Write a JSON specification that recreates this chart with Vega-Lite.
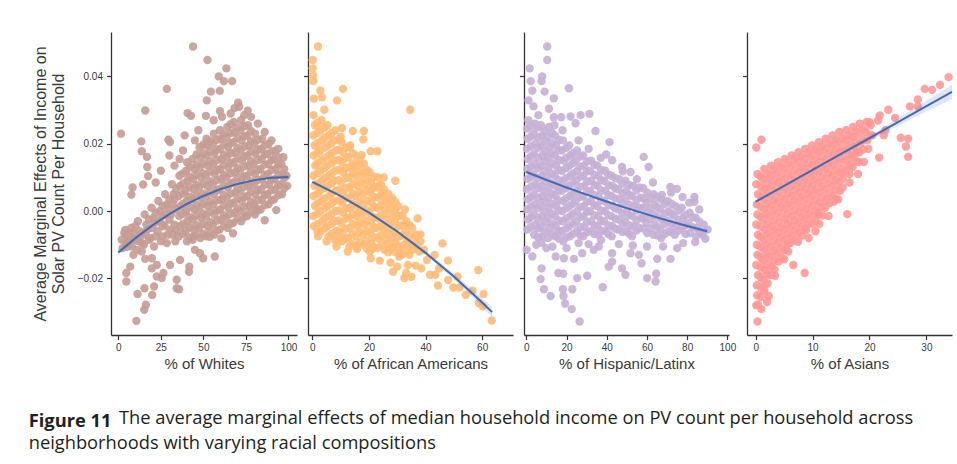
{
"$schema":"https://vega.github.io/schema/vega-lite/v6.json",
"padding":{"left":28,"top":32,"right":5,"bottom":5},
"background":"white",
"datasets":{
"w":[{"x":43.9,"y":0.0489},{"x":52.4,"y":0.0449},{"x":63.5,"y":0.0424},{"x":59,"y":0.040},{"x":66.9,"y":0.0386},{"x":62,"y":0.0386},{"x":54.4,"y":0.0355},{"x":59.6,"y":0.0357},{"x":52,"y":0.0329},{"x":28.5,"y":0.0363},{"x":15.8,"y":0.0299},{"x":1.6,"y":0.023},{"x":70.4,"y":0.0322},{"x":68.3,"y":0.0306},{"x":40.7,"y":0.0291},{"x":42.7,"y":0.0283},{"x":51.5,"y":0.0283},{"x":59.7,"y":0.0297},{"x":29.4,"y":0.0212},{"x":30.4,"y":0.0205},{"x":13.5,"y":0.0207},{"x":13.8,"y":0.0178},{"x":16.8,"y":0.0161},{"x":17,"y":0.0131},{"x":17.5,"y":0.0104},{"x":14.6,"y":0.0079},{"x":8.4,"y":0.007},{"x":7.7,"y":0.0049},{"x":4.1,"y":-0.0056},{"x":6.4,"y":-0.0086},{"x":5,"y":-0.0106},{"x":8.9,"y":-0.013},{"x":7,"y":-0.0165},{"x":4.7,"y":-0.0184},{"x":4.7,"y":-0.0209},{"x":11.3,"y":-0.0246},{"x":16.2,"y":-0.0278},{"x":15.2,"y":-0.0293},{"x":10.6,"y":-0.0326},{"x":15.4,"y":-0.0229},{"x":19.9,"y":-0.0249},{"x":21,"y":-0.0224},{"x":22.6,"y":-0.0194},{"x":25.5,"y":-0.0199},{"x":26.5,"y":-0.0184},{"x":34.3,"y":-0.0229},{"x":35.7,"y":-0.0232},{"x":34.3,"y":-0.0204},{"x":41.5,"y":-0.018},{"x":41.7,"y":-0.0165},{"x":36.3,"y":-0.0145},{"x":30.4,"y":-0.016},{"x":22.6,"y":-0.016},{"x":19.7,"y":-0.017},{"x":19.7,"y":-0.014},{"x":15.8,"y":-0.0142},{"x":13.8,"y":-0.012},{"x":49.9,"y":-0.014},{"x":56.7,"y":-0.0135},{"x":48,"y":-0.0125},{"x":45,"y":-0.0115},{"x":44,"y":-0.0076},{"x":53.8,"y":-0.0076},{"x":60.6,"y":-0.0081},{"x":67.4,"y":-0.0066},{"x":81.1,"y":0.0008},{"x":86,"y":-0.0027},{"x":92.8,"y":0.0003},{"x":75.2,"y":-0.0012},
{"x":38,"y":0.018},{"x":45,"y":0.021},{"x":36,"y":0.0155},{"x":47,"y":0.024},{"x":33,"y":0.0135},{"x":25,"y":0.012},{"x":22,"y":0.0085},{"x":30,"y":0.0165},{"x":39,"y":0.0225},{"x":56,"y":0.027},{"x":61,"y":0.028},{"x":66,"y":0.029},{"x":74,"y":0.0285},{"x":78,"y":0.028},{"x":82,"y":0.026},{"x":86,"y":0.0235},{"x":90,"y":0.021},{"x":94,"y":0.0185},{"x":97,"y":0.016},{"x":71,"y":0.031},{"x":76,"y":0.0298},
{"x":3.5,"y":-0.0065},{"x":4.5,"y":-0.0095},{"x":2.5,"y":-0.011},{"x":5,"y":-0.0075},{"x":7.5,"y":-0.005},{"x":8.5,"y":-0.008},{"x":8,"y":-0.0105},{"x":9,"y":-0.0065},{"x":11.5,"y":-0.003},{"x":12.5,"y":-0.006},{"x":12,"y":-0.009},{"x":11,"y":-0.0115},{"x":13,"y":-0.0075},{"x":15.5,"y":-0.001},{"x":16.5,"y":-0.004},{"x":16,"y":-0.007},{"x":15,"y":-0.010},{"x":17,"y":-0.0055},{"x":19.5,"y":0.001},{"x":20.5,"y":-0.002},{"x":20,"y":-0.005},{"x":19,"y":-0.008},{"x":21,"y":-0.0105},{"x":21.5,"y":-0.0035},{"x":23.5,"y":0.003},{"x":24.5,"y":0.0},{"x":24,"y":-0.003},{"x":23,"y":-0.006},{"x":25,"y":-0.009},{"x":25.5,"y":-0.0015},{"x":27.5,"y":0.005},{"x":28.5,"y":0.002},{"x":28,"y":-0.001},{"x":27,"y":-0.004},{"x":29,"y":-0.007},{"x":28.5,"y":-0.0095},{"x":29.5,"y":0.0005},{"x":31.5,"y":0.008},{"x":32.5,"y":0.005},{"x":32,"y":0.002},{"x":31,"y":-0.001},{"x":33,"y":-0.004},{"x":32,"y":-0.007},{"x":33.5,"y":-0.009},{"x":33,"y":0.0035},
{"x":6,"y":-0.0072},{"x":10,"y":-0.0085},{"x":10,"y":-0.0045},{"x":14,"y":-0.0065},{"x":14,"y":-0.0095},{"x":18,"y":-0.0025},{"x":18,"y":-0.0085},{"x":22,"y":-0.0005},{"x":22,"y":-0.0075},{"x":26,"y":0.0015},{"x":26,"y":-0.0045},{"x":26,"y":-0.0075},{"x":30,"y":0.0035},{"x":30,"y":-0.0025},{"x":30,"y":-0.0055},{"x":34,"y":0.0065},{"x":34,"y":0.0005},{"x":34,"y":-0.0058},{"x":2,"y":-0.0085},{"x":6,"y":-0.0102},
{"x":35.6,"y":-0.0075},{"x":36.4,"y":-0.0045},{"x":35.8,"y":-0.0015},{"x":36.6,"y":0.0015},{"x":35.4,"y":0.0045},{"x":36.2,"y":0.0075},{"x":35.9,"y":0.0105},
{"x":40.3,"y":-0.009},{"x":39.6,"y":-0.006},{"x":40.5,"y":-0.003},{"x":39.8,"y":0.0},{"x":40.2,"y":0.003},{"x":39.5,"y":0.006},{"x":40.6,"y":0.009},{"x":39.9,"y":0.012},{"x":40.4,"y":0.0145},
{"x":43.7,"y":-0.0085},{"x":44.4,"y":-0.0055},{"x":43.8,"y":-0.0025},{"x":44.6,"y":0.0005},{"x":43.5,"y":0.0035},{"x":44.2,"y":0.0065},{"x":43.9,"y":0.0095},{"x":44.5,"y":0.0125},{"x":43.6,"y":0.0155},
{"x":48.2,"y":-0.008},{"x":47.6,"y":-0.005},{"x":48.5,"y":-0.002},{"x":47.8,"y":0.001},{"x":48.3,"y":0.004},{"x":47.5,"y":0.007},{"x":48.6,"y":0.010},{"x":47.9,"y":0.013},{"x":48.1,"y":0.016},{"x":47.7,"y":0.019},
{"x":51.7,"y":-0.0075},{"x":52.4,"y":-0.0045},{"x":51.6,"y":-0.0015},{"x":52.5,"y":0.0015},{"x":51.8,"y":0.0045},{"x":52.2,"y":0.0075},{"x":51.5,"y":0.0105},{"x":52.6,"y":0.0135},{"x":51.9,"y":0.0165},{"x":52.3,"y":0.0195},{"x":51.8,"y":0.0215},
{"x":56.3,"y":-0.007},{"x":55.6,"y":-0.004},{"x":56.5,"y":-0.001},{"x":55.8,"y":0.002},{"x":56.2,"y":0.005},{"x":55.5,"y":0.008},{"x":56.6,"y":0.011},{"x":55.9,"y":0.014},{"x":56.4,"y":0.017},{"x":55.7,"y":0.020},{"x":56.1,"y":0.023},
{"x":59.6,"y":-0.0055},{"x":60.4,"y":-0.0025},{"x":59.8,"y":0.0005},{"x":60.5,"y":0.0035},{"x":59.5,"y":0.0065},{"x":60.3,"y":0.0095},{"x":59.9,"y":0.0125},{"x":60.6,"y":0.0155},{"x":59.7,"y":0.0185},{"x":60.2,"y":0.0215},{"x":59.8,"y":0.024},
{"x":64.2,"y":-0.005},{"x":63.6,"y":-0.002},{"x":64.5,"y":0.001},{"x":63.8,"y":0.004},{"x":64.3,"y":0.007},{"x":63.5,"y":0.010},{"x":64.6,"y":0.013},{"x":63.9,"y":0.016},{"x":64.4,"y":0.019},{"x":63.7,"y":0.022},{"x":64.1,"y":0.025},
{"x":67.6,"y":-0.0035},{"x":68.4,"y":-0.0005},{"x":67.8,"y":0.0025},{"x":68.5,"y":0.0055},{"x":67.5,"y":0.0085},{"x":68.3,"y":0.0115},{"x":67.9,"y":0.0145},{"x":68.6,"y":0.0175},{"x":67.7,"y":0.0205},{"x":68.2,"y":0.0235},{"x":67.8,"y":0.0265},
{"x":72.2,"y":-0.003},{"x":71.6,"y":0.0},{"x":72.5,"y":0.003},{"x":71.8,"y":0.006},{"x":72.3,"y":0.009},{"x":71.5,"y":0.012},{"x":72.6,"y":0.015},{"x":71.9,"y":0.018},{"x":72.4,"y":0.021},{"x":71.7,"y":0.024},{"x":72.1,"y":0.027},
{"x":75.6,"y":-0.0015},{"x":76.4,"y":0.0015},{"x":75.8,"y":0.0045},{"x":76.5,"y":0.0075},{"x":75.5,"y":0.0105},{"x":76.3,"y":0.0135},{"x":75.9,"y":0.0165},{"x":76.6,"y":0.0195},{"x":75.7,"y":0.0225},{"x":76.2,"y":0.0255},
{"x":80.2,"y":-0.001},{"x":79.6,"y":0.002},{"x":80.5,"y":0.005},{"x":79.8,"y":0.008},{"x":80.3,"y":0.011},{"x":79.5,"y":0.014},{"x":80.6,"y":0.017},{"x":79.9,"y":0.020},{"x":80.4,"y":0.023},
{"x":83.6,"y":0.0005},{"x":84.4,"y":0.0035},{"x":83.8,"y":0.0065},{"x":84.5,"y":0.0095},{"x":83.5,"y":0.0125},{"x":84.3,"y":0.0155},{"x":83.9,"y":0.0185},{"x":84.6,"y":0.0215},
{"x":88.2,"y":0.002},{"x":87.6,"y":0.005},{"x":88.5,"y":0.008},{"x":87.8,"y":0.011},{"x":88.3,"y":0.014},{"x":87.5,"y":0.017},{"x":88.4,"y":0.020},
{"x":91.6,"y":0.0035},{"x":92.4,"y":0.0065},{"x":91.8,"y":0.0095},{"x":92.5,"y":0.0125},{"x":91.5,"y":0.0155},{"x":92.3,"y":0.018},
{"x":96.2,"y":0.005},{"x":95.6,"y":0.008},{"x":96.5,"y":0.011},{"x":95.8,"y":0.014},{"x":99.3,"y":0.0075},{"x":98.8,"y":0.0105},
{"x":38,"y":-0.0068},{"x":38,"y":-0.0038},{"x":38,"y":-0.0008},{"x":38,"y":0.0022},{"x":38,"y":0.0052},{"x":38,"y":0.0082},{"x":38,"y":0.0112},
{"x":42,"y":-0.0078},{"x":42,"y":-0.0048},{"x":42,"y":-0.0018},{"x":42,"y":0.0012},{"x":42,"y":0.0042},{"x":42,"y":0.0072},{"x":42,"y":0.0102},{"x":42,"y":0.0132},
{"x":46,"y":-0.0072},{"x":46,"y":-0.0042},{"x":46,"y":-0.0012},{"x":46,"y":0.0018},{"x":46,"y":0.0048},{"x":46,"y":0.0078},{"x":46,"y":0.0108},{"x":46,"y":0.0138},{"x":46,"y":0.0168},
{"x":50,"y":-0.0068},{"x":50,"y":-0.0038},{"x":50,"y":-0.0008},{"x":50,"y":0.0022},{"x":50,"y":0.0052},{"x":50,"y":0.0082},{"x":50,"y":0.0112},{"x":50,"y":0.0142},{"x":50,"y":0.0172},{"x":50,"y":0.0198},
{"x":54,"y":-0.0062},{"x":54,"y":-0.0032},{"x":54,"y":-0.0002},{"x":54,"y":0.0028},{"x":54,"y":0.0058},{"x":54,"y":0.0088},{"x":54,"y":0.0118},{"x":54,"y":0.0148},{"x":54,"y":0.0178},{"x":54,"y":0.0208},
{"x":58,"y":-0.0058},{"x":58,"y":-0.0028},{"x":58,"y":0.0002},{"x":58,"y":0.0032},{"x":58,"y":0.0062},{"x":58,"y":0.0092},{"x":58,"y":0.0122},{"x":58,"y":0.0152},{"x":58,"y":0.0182},{"x":58,"y":0.0212},
{"x":62,"y":-0.0042},{"x":62,"y":-0.0012},{"x":62,"y":0.0018},{"x":62,"y":0.0048},{"x":62,"y":0.0078},{"x":62,"y":0.0108},{"x":62,"y":0.0138},{"x":62,"y":0.0168},{"x":62,"y":0.0198},{"x":62,"y":0.0228},
{"x":66,"y":-0.0038},{"x":66,"y":-0.0008},{"x":66,"y":0.0022},{"x":66,"y":0.0052},{"x":66,"y":0.0082},{"x":66,"y":0.0112},{"x":66,"y":0.0142},{"x":66,"y":0.0172},{"x":66,"y":0.0202},{"x":66,"y":0.0232},{"x":66,"y":0.0258},
{"x":70,"y":-0.0022},{"x":70,"y":0.0008},{"x":70,"y":0.0038},{"x":70,"y":0.0068},{"x":70,"y":0.0098},{"x":70,"y":0.0128},{"x":70,"y":0.0158},{"x":70,"y":0.0188},{"x":70,"y":0.0218},{"x":70,"y":0.0248},
{"x":74,"y":-0.0018},{"x":74,"y":0.0012},{"x":74,"y":0.0042},{"x":74,"y":0.0072},{"x":74,"y":0.0102},{"x":74,"y":0.0132},{"x":74,"y":0.0162},{"x":74,"y":0.0192},{"x":74,"y":0.0222},{"x":74,"y":0.0252},
{"x":78,"y":-0.0002},{"x":78,"y":0.0028},{"x":78,"y":0.0058},{"x":78,"y":0.0088},{"x":78,"y":0.0118},{"x":78,"y":0.0148},{"x":78,"y":0.0178},{"x":78,"y":0.0208},{"x":78,"y":0.0238},
{"x":82,"y":0.0002},{"x":82,"y":0.0032},{"x":82,"y":0.0062},{"x":82,"y":0.0092},{"x":82,"y":0.0122},{"x":82,"y":0.0152},{"x":82,"y":0.0182},{"x":82,"y":0.0212},
{"x":86,"y":0.0018},{"x":86,"y":0.0048},{"x":86,"y":0.0078},{"x":86,"y":0.0108},{"x":86,"y":0.0138},{"x":86,"y":0.0168},{"x":86,"y":0.0195},
{"x":90,"y":0.0032},{"x":90,"y":0.0062},{"x":90,"y":0.0092},{"x":90,"y":0.0122},{"x":90,"y":0.0152},{"x":90,"y":0.0178},
{"x":94,"y":0.0048},{"x":94,"y":0.0078},{"x":94,"y":0.0108},{"x":94,"y":0.0138},{"x":94,"y":0.016},
{"x":97.5,"y":0.0068},{"x":97.5,"y":0.0098},{"x":97.5,"y":0.0125}],
"b":[{"x":2,"y":0.0489},{"x":0.1,"y":0.0449},{"x":0.1,"y":0.0424},{"x":0.2,"y":0.0403},{"x":0.3,"y":0.0386},{"x":2.8,"y":0.0358},{"x":3.4,"y":0.0338},{"x":10.8,"y":0.0363},{"x":8.7,"y":0.0329},{"x":0.5,"y":0.0334},{"x":4.2,"y":0.0301},{"x":34.6,"y":0.0301},{"x":10.5,"y":0.0247},{"x":14.3,"y":0.0238},{"x":18.2,"y":0.0238},{"x":18,"y":0.0213},{"x":10,"y":0.022},{"x":13.3,"y":0.0195},{"x":20.6,"y":0.0178},{"x":23,"y":0.0178},{"x":17.4,"y":0.0166},{"x":18.8,"y":0.0116},{"x":14.4,"y":0.0131},{"x":25.2,"y":0.01},{"x":29.3,"y":0.009},{"x":23.6,"y":0.0077},{"x":20.6,"y":0.006},{"x":24.8,"y":0.0054},{"x":26.9,"y":0.0033},{"x":32.7,"y":0.0005},{"x":37.2,"y":-0.0022},{"x":32.8,"y":-0.0038},{"x":38.2,"y":-0.0069},{"x":46,"y":-0.0096},{"x":39.4,"y":-0.0115},{"x":43.2,"y":-0.013},{"x":47.9,"y":-0.0147},{"x":36.5,"y":-0.0162},{"x":33.8,"y":-0.016},{"x":28.5,"y":-0.018},{"x":32.5,"y":-0.0199},{"x":33.1,"y":-0.0184},{"x":41.6,"y":-0.0189},{"x":43.4,"y":-0.0189},{"x":44.4,"y":-0.0221},{"x":51.3,"y":-0.0194},{"x":49.8,"y":-0.0227},{"x":51.9,"y":-0.0227},{"x":54.2,"y":-0.0249},{"x":56.6,"y":-0.0236},{"x":58.6,"y":-0.0175},{"x":60.5,"y":-0.0246},{"x":58.8,"y":-0.0273},{"x":60.2,"y":-0.0283},{"x":63.4,"y":-0.0325},{"x":23.8,"y":-0.0147},{"x":20.6,"y":-0.014},{"x":27.6,"y":-0.0153},{"x":30.8,"y":-0.0125},{"x":34.3,"y":-0.013},{"x":15.8,"y":-0.0113},{"x":21,"y":-0.0113},{"x":28.5,"y":-0.0109},{"x":12.5,"y":-0.012},{"x":8.5,"y":-0.0105},{"x":5,"y":-0.009},{"x":2,"y":-0.0075},{"x":40.5,"y":-0.0145},{"x":44.8,"y":-0.017},{"x":38.5,"y":-0.017},{"x":35,"y":-0.0195},{"x":30,"y":-0.0165},{"x":48,"y":-0.0205},
{"x":0.4,"y":0.0285},{"x":0.9,"y":0.0255},{"x":0.3,"y":0.0225},{"x":0.8,"y":0.0195},{"x":0.5,"y":0.0165},{"x":1.0,"y":0.0135},{"x":0.3,"y":0.0105},{"x":0.7,"y":0.0075},{"x":0.4,"y":0.0045},{"x":0.9,"y":0.0015},{"x":0.3,"y":-0.0015},{"x":0.6,"y":-0.0045},
{"x":3.2,"y":0.027},{"x":2.8,"y":0.024},{"x":3.4,"y":0.021},{"x":2.7,"y":0.018},{"x":3.1,"y":0.015},{"x":2.9,"y":0.012},{"x":3.3,"y":0.009},{"x":2.6,"y":0.006},{"x":3.2,"y":0.003},{"x":2.8,"y":0.0},{"x":3.4,"y":-0.003},{"x":3.0,"y":-0.006},
{"x":5.3,"y":0.0255},{"x":5.8,"y":0.0225},{"x":5.4,"y":0.0195},{"x":5.9,"y":0.0165},{"x":5.2,"y":0.0135},{"x":5.7,"y":0.0105},{"x":5.5,"y":0.0075},{"x":5.9,"y":0.0045},{"x":5.3,"y":0.0015},{"x":5.6,"y":-0.0015},{"x":5.2,"y":-0.0045},{"x":5.7,"y":-0.0075},
{"x":8.2,"y":0.024},{"x":7.7,"y":0.021},{"x":8.4,"y":0.018},{"x":7.8,"y":0.015},{"x":8.1,"y":0.012},{"x":7.6,"y":0.009},{"x":8.3,"y":0.006},{"x":7.9,"y":0.003},{"x":8.2,"y":0.0},{"x":7.7,"y":-0.003},{"x":8.4,"y":-0.006},{"x":7.9,"y":-0.0085},
{"x":10.3,"y":0.0205},{"x":10.8,"y":0.0175},{"x":10.4,"y":0.0145},{"x":10.9,"y":0.0115},{"x":10.2,"y":0.0085},{"x":10.7,"y":0.0055},{"x":10.5,"y":0.0025},{"x":10.9,"y":-0.0005},{"x":10.3,"y":-0.0035},{"x":10.6,"y":-0.0065},{"x":10.4,"y":-0.009},
{"x":13.2,"y":0.019},{"x":12.7,"y":0.016},{"x":13.4,"y":0.013},{"x":12.8,"y":0.010},{"x":13.1,"y":0.007},{"x":12.6,"y":0.004},{"x":13.3,"y":0.001},{"x":12.9,"y":-0.002},{"x":13.2,"y":-0.005},{"x":12.7,"y":-0.008},{"x":13.1,"y":-0.0105},
{"x":15.3,"y":0.0165},{"x":15.8,"y":0.0135},{"x":15.4,"y":0.0105},{"x":15.9,"y":0.0075},{"x":15.2,"y":0.0045},{"x":15.7,"y":0.0015},{"x":15.5,"y":-0.0015},{"x":15.9,"y":-0.0045},{"x":15.3,"y":-0.0075},{"x":15.6,"y":-0.0105},
{"x":18.2,"y":0.014},{"x":17.7,"y":0.011},{"x":18.4,"y":0.008},{"x":17.8,"y":0.005},{"x":18.1,"y":0.002},{"x":17.6,"y":-0.001},{"x":18.3,"y":-0.004},{"x":17.9,"y":-0.007},{"x":18.2,"y":-0.010},
{"x":20.3,"y":0.0115},{"x":20.8,"y":0.0085},{"x":20.4,"y":0.0055},{"x":20.9,"y":0.0025},{"x":20.2,"y":-0.0005},{"x":20.7,"y":-0.0035},{"x":20.5,"y":-0.0065},{"x":20.9,"y":-0.0095},{"x":20.3,"y":-0.012},
{"x":23.2,"y":0.010},{"x":22.7,"y":0.007},{"x":23.4,"y":0.004},{"x":22.8,"y":0.001},{"x":23.1,"y":-0.002},{"x":22.6,"y":-0.005},{"x":23.3,"y":-0.008},{"x":22.9,"y":-0.011},
{"x":25.3,"y":0.0065},{"x":25.8,"y":0.0035},{"x":25.4,"y":0.0005},{"x":25.9,"y":-0.0025},{"x":25.2,"y":-0.0055},{"x":25.7,"y":-0.0085},{"x":25.5,"y":-0.0115},
{"x":28.2,"y":0.004},{"x":27.7,"y":0.001},{"x":28.4,"y":-0.002},{"x":27.8,"y":-0.005},{"x":28.1,"y":-0.008},{"x":27.6,"y":-0.011},
{"x":30.3,"y":0.0015},{"x":30.8,"y":-0.0015},{"x":30.4,"y":-0.0045},{"x":30.9,"y":-0.0075},{"x":30.2,"y":-0.0105},{"x":30.7,"y":-0.0135},
{"x":33.2,"y":-0.003},{"x":32.7,"y":-0.006},{"x":33.4,"y":-0.009},{"x":32.8,"y":-0.012},{"x":35.3,"y":-0.005},{"x":35.8,"y":-0.0085},{"x":35.4,"y":-0.0115},{"x":38.2,"y":-0.009},{"x":37.8,"y":-0.012},
{"x":1.8,"y":0.0262},{"x":1.8,"y":0.0232},{"x":1.8,"y":0.0202},{"x":1.8,"y":0.0172},{"x":1.8,"y":0.0142},{"x":1.8,"y":0.0112},{"x":1.8,"y":0.0082},{"x":1.8,"y":0.0052},{"x":1.8,"y":0.0022},{"x":1.8,"y":-0.0008},{"x":1.8,"y":-0.0038},{"x":1.8,"y":-0.0062},
{"x":4.3,"y":0.0248},{"x":4.3,"y":0.0218},{"x":4.3,"y":0.0188},{"x":4.3,"y":0.0158},{"x":4.3,"y":0.0128},{"x":4.3,"y":0.0098},{"x":4.3,"y":0.0068},{"x":4.3,"y":0.0038},{"x":4.3,"y":0.0008},{"x":4.3,"y":-0.0022},{"x":4.3,"y":-0.0052},
{"x":6.8,"y":0.0232},{"x":6.8,"y":0.0202},{"x":6.8,"y":0.0172},{"x":6.8,"y":0.0142},{"x":6.8,"y":0.0112},{"x":6.8,"y":0.0082},{"x":6.8,"y":0.0052},{"x":6.8,"y":0.0022},{"x":6.8,"y":-0.0008},{"x":6.8,"y":-0.0038},{"x":6.8,"y":-0.0068},
{"x":9.3,"y":0.0212},{"x":9.3,"y":0.0182},{"x":9.3,"y":0.0152},{"x":9.3,"y":0.0122},{"x":9.3,"y":0.0092},{"x":9.3,"y":0.0062},{"x":9.3,"y":0.0032},{"x":9.3,"y":0.0002},{"x":9.3,"y":-0.0028},{"x":9.3,"y":-0.0058},{"x":9.3,"y":-0.0082},
{"x":11.8,"y":0.0188},{"x":11.8,"y":0.0158},{"x":11.8,"y":0.0128},{"x":11.8,"y":0.0098},{"x":11.8,"y":0.0068},{"x":11.8,"y":0.0038},{"x":11.8,"y":0.0008},{"x":11.8,"y":-0.0022},{"x":11.8,"y":-0.0052},{"x":11.8,"y":-0.0082},
{"x":14.3,"y":0.0172},{"x":14.3,"y":0.0142},{"x":14.3,"y":0.0112},{"x":14.3,"y":0.0082},{"x":14.3,"y":0.0052},{"x":14.3,"y":0.0022},{"x":14.3,"y":-0.0008},{"x":14.3,"y":-0.0038},{"x":14.3,"y":-0.0068},{"x":14.3,"y":-0.0098},
{"x":16.8,"y":0.0148},{"x":16.8,"y":0.0118},{"x":16.8,"y":0.0088},{"x":16.8,"y":0.0058},{"x":16.8,"y":0.0028},{"x":16.8,"y":-0.0002},{"x":16.8,"y":-0.0032},{"x":16.8,"y":-0.0062},{"x":16.8,"y":-0.0092},
{"x":19.3,"y":0.0122},{"x":19.3,"y":0.0092},{"x":19.3,"y":0.0062},{"x":19.3,"y":0.0032},{"x":19.3,"y":0.0002},{"x":19.3,"y":-0.0028},{"x":19.3,"y":-0.0058},{"x":19.3,"y":-0.0088},{"x":19.3,"y":-0.0112},
{"x":21.8,"y":0.0102},{"x":21.8,"y":0.0072},{"x":21.8,"y":0.0042},{"x":21.8,"y":0.0012},{"x":21.8,"y":-0.0018},{"x":21.8,"y":-0.0048},{"x":21.8,"y":-0.0078},{"x":21.8,"y":-0.0108},
{"x":24.3,"y":0.0078},{"x":24.3,"y":0.0048},{"x":24.3,"y":0.0018},{"x":24.3,"y":-0.0012},{"x":24.3,"y":-0.0042},{"x":24.3,"y":-0.0072},{"x":24.3,"y":-0.0102},
{"x":26.8,"y":0.0052},{"x":26.8,"y":0.0022},{"x":26.8,"y":-0.0008},{"x":26.8,"y":-0.0038},{"x":26.8,"y":-0.0068},{"x":26.8,"y":-0.0098},{"x":26.8,"y":-0.0122},
{"x":29.3,"y":0.0028},{"x":29.3,"y":-0.0002},{"x":29.3,"y":-0.0032},{"x":29.3,"y":-0.0062},{"x":29.3,"y":-0.0092},{"x":29.3,"y":-0.0122},
{"x":31.8,"y":-0.0012},{"x":31.8,"y":-0.0042},{"x":31.8,"y":-0.0072},{"x":31.8,"y":-0.0102},{"x":31.8,"y":-0.0128},
{"x":34.3,"y":-0.0042},{"x":34.3,"y":-0.0072},{"x":34.3,"y":-0.0102},{"x":36.8,"y":-0.007},{"x":36.8,"y":-0.0102}],
"h":[{"x":10.4,"y":0.0489},{"x":10.4,"y":0.0449},{"x":1.7,"y":0.0424},{"x":7.9,"y":0.040},{"x":7.6,"y":0.0386},{"x":2.2,"y":0.0386},{"x":3,"y":0.0358},{"x":9.1,"y":0.0355},{"x":21.2,"y":0.0365},{"x":13.7,"y":0.0335},{"x":1.1,"y":0.0329},{"x":3.6,"y":0.0311},{"x":11.3,"y":0.0304},{"x":13.7,"y":0.0279},{"x":17.4,"y":0.0279},{"x":22,"y":0.0281},{"x":31.4,"y":0.0289},{"x":27,"y":0.0285},{"x":24.5,"y":0.0261},{"x":34.4,"y":0.0238},{"x":41.4,"y":0.0205},{"x":39.7,"y":0.0168},{"x":42.7,"y":0.0151},{"x":58.4,"y":0.0161},{"x":60.8,"y":0.0131},{"x":47.6,"y":0.0131},{"x":51.8,"y":0.0116},{"x":71.6,"y":0.0072},{"x":74.9,"y":0.0066},{"x":77.7,"y":0.0042},{"x":83.6,"y":0.0042},{"x":83.6,"y":0.0028},{"x":67.4,"y":0.0048},
{"x":0.2,"y":-0.0115},{"x":3,"y":-0.0135},{"x":7.6,"y":-0.0094},{"x":7.6,"y":-0.017},{"x":7.1,"y":-0.0202},{"x":8.8,"y":-0.0232},{"x":12.1,"y":-0.0252},{"x":15.9,"y":-0.0184},{"x":18.4,"y":-0.0186},{"x":18.2,"y":-0.0232},{"x":18.5,"y":-0.0252},{"x":19.3,"y":-0.0275},{"x":22.6,"y":-0.0291},{"x":26.5,"y":-0.0328},{"x":22.9,"y":-0.0232},{"x":14.6,"y":-0.0135},{"x":18.7,"y":-0.014},{"x":23.7,"y":-0.0142},{"x":25.3,"y":-0.0199},{"x":30.3,"y":-0.0192},{"x":27.8,"y":-0.0125},{"x":33.5,"y":-0.0115},{"x":38,"y":-0.0226},{"x":41,"y":-0.0165},{"x":42.7,"y":-0.015},{"x":47.6,"y":-0.017},{"x":49.3,"y":-0.0189},{"x":51.8,"y":-0.0125},{"x":57.3,"y":-0.0155},{"x":60.1,"y":-0.0199},{"x":64.6,"y":-0.0186},{"x":64.3,"y":-0.0209},{"x":56,"y":-0.013},{"x":65.1,"y":-0.0142},{"x":71.7,"y":-0.0142},{"x":42.7,"y":-0.0125},{"x":75,"y":-0.011},{"x":37.2,"y":-0.0086},
{"x":10,"y":-0.011},{"x":5,"y":-0.01},{"x":13,"y":-0.0105},{"x":20,"y":-0.011},{"x":26,"y":-0.0095},{"x":31,"y":-0.0098},{"x":36,"y":-0.0105},{"x":46,"y":-0.0098},{"x":53,"y":-0.0102},{"x":60,"y":-0.0105},{"x":68,"y":-0.0105},{"x":78,"y":-0.0095},{"x":84,"y":-0.0092},{"x":89,"y":-0.0082},{"x":86,"y":0.0005},{"x":81,"y":0.0025},{"x":72,"y":0.0055},{"x":63,"y":0.0085},{"x":55,"y":0.0095},{"x":48,"y":0.0118},{"x":37,"y":0.0158},{"x":31,"y":0.0185},{"x":26,"y":0.021},{"x":18,"y":0.024},{"x":14,"y":0.0255},{"x":6,"y":0.0285},{"x":1,"y":0.027},
{"x":0.4,"y":0.0245},{"x":0.8,"y":0.0215},{"x":0.3,"y":0.0185},{"x":0.9,"y":0.0155},{"x":0.5,"y":0.0125},{"x":0.7,"y":0.0095},{"x":0.3,"y":0.0065},{"x":0.8,"y":0.0035},{"x":0.4,"y":0.0005},{"x":0.9,"y":-0.0025},{"x":0.5,"y":-0.0055},
{"x":4.2,"y":0.026},{"x":3.7,"y":0.023},{"x":4.4,"y":0.020},{"x":3.8,"y":0.017},{"x":4.1,"y":0.014},{"x":3.6,"y":0.011},{"x":4.3,"y":0.008},{"x":3.9,"y":0.005},{"x":4.2,"y":0.002},{"x":3.7,"y":-0.001},{"x":4.4,"y":-0.004},{"x":3.9,"y":-0.007},
{"x":7.3,"y":0.0255},{"x":7.8,"y":0.0225},{"x":7.4,"y":0.0195},{"x":7.9,"y":0.0165},{"x":7.2,"y":0.0135},{"x":7.7,"y":0.0105},{"x":7.5,"y":0.0075},{"x":7.9,"y":0.0045},{"x":7.3,"y":0.0015},{"x":7.6,"y":-0.0015},{"x":7.2,"y":-0.0045},{"x":7.7,"y":-0.0075},
{"x":11.2,"y":0.025},{"x":10.7,"y":0.022},{"x":11.4,"y":0.019},{"x":10.8,"y":0.016},{"x":11.1,"y":0.013},{"x":10.6,"y":0.010},{"x":11.3,"y":0.007},{"x":10.9,"y":0.004},{"x":11.2,"y":0.001},{"x":10.7,"y":-0.002},{"x":11.4,"y":-0.005},{"x":10.9,"y":-0.008},
{"x":14.3,"y":0.0225},{"x":14.8,"y":0.0195},{"x":14.4,"y":0.0165},{"x":14.9,"y":0.0135},{"x":14.2,"y":0.0105},{"x":14.7,"y":0.0075},{"x":14.5,"y":0.0045},{"x":14.9,"y":0.0015},{"x":14.3,"y":-0.0015},{"x":14.6,"y":-0.0045},{"x":14.4,"y":-0.0075},
{"x":18.2,"y":0.021},{"x":17.7,"y":0.018},{"x":18.4,"y":0.015},{"x":17.8,"y":0.012},{"x":18.1,"y":0.009},{"x":17.6,"y":0.006},{"x":18.3,"y":0.003},{"x":17.9,"y":0.0},{"x":18.2,"y":-0.003},{"x":17.7,"y":-0.006},{"x":18.4,"y":-0.009},
{"x":21.3,"y":0.0195},{"x":21.8,"y":0.0165},{"x":21.4,"y":0.0135},{"x":21.9,"y":0.0105},{"x":21.2,"y":0.0075},{"x":21.7,"y":0.0045},{"x":21.5,"y":0.0015},{"x":21.9,"y":-0.0015},{"x":21.3,"y":-0.0045},{"x":21.6,"y":-0.0075},
{"x":25.2,"y":0.018},{"x":24.7,"y":0.015},{"x":25.4,"y":0.012},{"x":24.8,"y":0.009},{"x":25.1,"y":0.006},{"x":24.6,"y":0.003},{"x":25.3,"y":0.0},{"x":24.9,"y":-0.003},{"x":25.2,"y":-0.006},
{"x":28.3,"y":0.0165},{"x":28.8,"y":0.0135},{"x":28.4,"y":0.0105},{"x":28.9,"y":0.0075},{"x":28.2,"y":0.0045},{"x":28.7,"y":0.0015},{"x":28.5,"y":-0.0015},{"x":28.9,"y":-0.0045},{"x":28.3,"y":-0.0075},
{"x":32.2,"y":0.015},{"x":31.7,"y":0.012},{"x":32.4,"y":0.009},{"x":31.8,"y":0.006},{"x":32.1,"y":0.003},{"x":31.6,"y":0.0},{"x":32.3,"y":-0.003},{"x":31.9,"y":-0.006},
{"x":35.3,"y":0.0135},{"x":35.8,"y":0.0105},{"x":35.4,"y":0.0075},{"x":35.9,"y":0.0045},{"x":35.2,"y":0.0015},{"x":35.7,"y":-0.0015},{"x":35.5,"y":-0.0045},{"x":35.9,"y":-0.007},
{"x":39.2,"y":0.012},{"x":38.7,"y":0.009},{"x":39.4,"y":0.006},{"x":38.8,"y":0.003},{"x":39.1,"y":0.0},{"x":38.6,"y":-0.003},{"x":39.3,"y":-0.006},
{"x":42.3,"y":0.0105},{"x":42.8,"y":0.0075},{"x":42.4,"y":0.0045},{"x":42.9,"y":0.0015},{"x":42.2,"y":-0.0015},{"x":42.7,"y":-0.0045},{"x":42.5,"y":-0.0075},
{"x":46.2,"y":0.0095},{"x":45.7,"y":0.0065},{"x":46.4,"y":0.0035},{"x":45.8,"y":0.0005},{"x":46.1,"y":-0.0025},{"x":45.6,"y":-0.0055},
{"x":49.3,"y":0.009},{"x":49.8,"y":0.006},{"x":49.4,"y":0.003},{"x":49.9,"y":0.0},{"x":49.2,"y":-0.003},{"x":49.7,"y":-0.006},
{"x":53.2,"y":0.0075},{"x":52.7,"y":0.0045},{"x":53.4,"y":0.0015},{"x":52.8,"y":-0.0015},{"x":53.1,"y":-0.0045},{"x":52.6,"y":-0.0075},
{"x":56.3,"y":0.007},{"x":56.8,"y":0.004},{"x":56.4,"y":0.001},{"x":56.9,"y":-0.002},{"x":56.2,"y":-0.005},
{"x":60.2,"y":0.0055},{"x":59.7,"y":0.0025},{"x":60.4,"y":-0.0005},{"x":59.8,"y":-0.0035},{"x":60.1,"y":-0.0065},
{"x":63.3,"y":0.005},{"x":63.8,"y":0.002},{"x":63.4,"y":-0.001},{"x":63.9,"y":-0.004},{"x":63.2,"y":-0.007},
{"x":67.2,"y":0.0035},{"x":66.7,"y":0.0005},{"x":67.4,"y":-0.0025},{"x":66.8,"y":-0.0055},{"x":67.1,"y":-0.008},
{"x":70.3,"y":0.003},{"x":70.8,"y":0.0},{"x":70.4,"y":-0.003},{"x":70.9,"y":-0.006},
{"x":74.2,"y":0.0015},{"x":73.7,"y":-0.0015},{"x":74.4,"y":-0.0045},{"x":73.8,"y":-0.007},
{"x":77.3,"y":0.001},{"x":77.8,"y":-0.002},{"x":77.4,"y":-0.005},{"x":81.2,"y":-0.0005},{"x":80.7,"y":-0.0035},{"x":81.4,"y":-0.0065},
{"x":84.3,"y":-0.002},{"x":84.8,"y":-0.005},{"x":84.4,"y":-0.0075},{"x":88.2,"y":-0.004},{"x":87.7,"y":-0.007},{"x":90.2,"y":-0.0055},
{"x":2.2,"y":0.0252},{"x":2.2,"y":0.0222},{"x":2.2,"y":0.0192},{"x":2.2,"y":0.0162},{"x":2.2,"y":0.0132},{"x":2.2,"y":0.0102},{"x":2.2,"y":0.0072},{"x":2.2,"y":0.0042},{"x":2.2,"y":0.0012},{"x":2.2,"y":-0.0018},{"x":2.2,"y":-0.0048},
{"x":5.8,"y":0.0248},{"x":5.8,"y":0.0218},{"x":5.8,"y":0.0188},{"x":5.8,"y":0.0158},{"x":5.8,"y":0.0128},{"x":5.8,"y":0.0098},{"x":5.8,"y":0.0068},{"x":5.8,"y":0.0038},{"x":5.8,"y":0.0008},{"x":5.8,"y":-0.0022},{"x":5.8,"y":-0.0052},{"x":5.8,"y":-0.0078},
{"x":9.2,"y":0.0238},{"x":9.2,"y":0.0208},{"x":9.2,"y":0.0178},{"x":9.2,"y":0.0148},{"x":9.2,"y":0.0118},{"x":9.2,"y":0.0088},{"x":9.2,"y":0.0058},{"x":9.2,"y":0.0028},{"x":9.2,"y":-0.0002},{"x":9.2,"y":-0.0032},{"x":9.2,"y":-0.0062},
{"x":12.8,"y":0.0232},{"x":12.8,"y":0.0202},{"x":12.8,"y":0.0172},{"x":12.8,"y":0.0142},{"x":12.8,"y":0.0112},{"x":12.8,"y":0.0082},{"x":12.8,"y":0.0052},{"x":12.8,"y":0.0022},{"x":12.8,"y":-0.0008},{"x":12.8,"y":-0.0038},{"x":12.8,"y":-0.0068},
{"x":16.2,"y":0.0212},{"x":16.2,"y":0.0182},{"x":16.2,"y":0.0152},{"x":16.2,"y":0.0122},{"x":16.2,"y":0.0092},{"x":16.2,"y":0.0062},{"x":16.2,"y":0.0032},{"x":16.2,"y":0.0002},{"x":16.2,"y":-0.0028},{"x":16.2,"y":-0.0058},{"x":16.2,"y":-0.0082},
{"x":19.8,"y":0.0188},{"x":19.8,"y":0.0158},{"x":19.8,"y":0.0128},{"x":19.8,"y":0.0098},{"x":19.8,"y":0.0068},{"x":19.8,"y":0.0038},{"x":19.8,"y":0.0008},{"x":19.8,"y":-0.0022},{"x":19.8,"y":-0.0052},{"x":19.8,"y":-0.0078},
{"x":23.2,"y":0.0172},{"x":23.2,"y":0.0142},{"x":23.2,"y":0.0112},{"x":23.2,"y":0.0082},{"x":23.2,"y":0.0052},{"x":23.2,"y":0.0022},{"x":23.2,"y":-0.0008},{"x":23.2,"y":-0.0038},{"x":23.2,"y":-0.0068},
{"x":26.8,"y":0.0162},{"x":26.8,"y":0.0132},{"x":26.8,"y":0.0102},{"x":26.8,"y":0.0072},{"x":26.8,"y":0.0042},{"x":26.8,"y":0.0012},{"x":26.8,"y":-0.0018},{"x":26.8,"y":-0.0048},{"x":26.8,"y":-0.0072},
{"x":30.2,"y":0.0148},{"x":30.2,"y":0.0118},{"x":30.2,"y":0.0088},{"x":30.2,"y":0.0058},{"x":30.2,"y":0.0028},{"x":30.2,"y":-0.0002},{"x":30.2,"y":-0.0032},{"x":30.2,"y":-0.0062},
{"x":33.8,"y":0.0138},{"x":33.8,"y":0.0108},{"x":33.8,"y":0.0078},{"x":33.8,"y":0.0048},{"x":33.8,"y":0.0018},{"x":33.8,"y":-0.0012},{"x":33.8,"y":-0.0042},{"x":33.8,"y":-0.0068},
{"x":37.2,"y":0.0122},{"x":37.2,"y":0.0092},{"x":37.2,"y":0.0062},{"x":37.2,"y":0.0032},{"x":37.2,"y":0.0002},{"x":37.2,"y":-0.0028},{"x":37.2,"y":-0.0058},
{"x":40.8,"y":0.0108},{"x":40.8,"y":0.0078},{"x":40.8,"y":0.0048},{"x":40.8,"y":0.0018},{"x":40.8,"y":-0.0012},{"x":40.8,"y":-0.0042},{"x":40.8,"y":-0.0068},
{"x":44.2,"y":0.0098},{"x":44.2,"y":0.0068},{"x":44.2,"y":0.0038},{"x":44.2,"y":0.0008},{"x":44.2,"y":-0.0022},{"x":44.2,"y":-0.0052},
{"x":47.8,"y":0.0082},{"x":47.8,"y":0.0052},{"x":47.8,"y":0.0022},{"x":47.8,"y":-0.0008},{"x":47.8,"y":-0.0038},{"x":47.8,"y":-0.0062},
{"x":51.2,"y":0.0078},{"x":51.2,"y":0.0048},{"x":51.2,"y":0.0018},{"x":51.2,"y":-0.0012},{"x":51.2,"y":-0.0042},{"x":51.2,"y":-0.0068},
{"x":54.8,"y":0.0062},{"x":54.8,"y":0.0032},{"x":54.8,"y":0.0002},{"x":54.8,"y":-0.0028},{"x":54.8,"y":-0.0058},
{"x":58.2,"y":0.0068},{"x":58.2,"y":0.0038},{"x":58.2,"y":0.0008},{"x":58.2,"y":-0.0022},{"x":58.2,"y":-0.0052},
{"x":61.8,"y":0.0038},{"x":61.8,"y":0.0008},{"x":61.8,"y":-0.0022},{"x":61.8,"y":-0.0052},
{"x":65.2,"y":0.0042},{"x":65.2,"y":0.0012},{"x":65.2,"y":-0.0018},{"x":65.2,"y":-0.0048},{"x":65.2,"y":-0.0072},
{"x":68.8,"y":0.0022},{"x":68.8,"y":-0.0008},{"x":68.8,"y":-0.0038},{"x":68.8,"y":-0.0068},
{"x":72.2,"y":0.0022},{"x":72.2,"y":-0.0008},{"x":72.2,"y":-0.0038},{"x":72.2,"y":-0.0062},
{"x":75.8,"y":0.0002},{"x":75.8,"y":-0.0028},{"x":75.8,"y":-0.0058},{"x":79.2,"y":-0.0012},{"x":79.2,"y":-0.0042},{"x":79.2,"y":-0.0068},
{"x":82.8,"y":-0.0018},{"x":82.8,"y":-0.0048},{"x":86.2,"y":-0.0032},{"x":86.2,"y":-0.0062}],
"a":[{"x":33.9,"y":0.0398},{"x":32.4,"y":0.0375},{"x":31,"y":0.036},{"x":29.7,"y":0.0363},{"x":28.5,"y":0.0332},{"x":27.1,"y":0.0311},{"x":28.5,"y":0.0311},{"x":23.3,"y":0.0301},{"x":21.8,"y":0.0284},{"x":24.5,"y":0.0277},{"x":20,"y":0.0264},{"x":21.5,"y":0.0269},{"x":22.8,"y":0.024},{"x":22.5,"y":0.0225},{"x":25.5,"y":0.0218},{"x":26.8,"y":0.0215},{"x":26.4,"y":0.0192},{"x":26.8,"y":0.0161},{"x":21.7,"y":0.0159},{"x":19,"y":0.0146},{"x":18.1,"y":0.0146},{"x":17.4,"y":0.0166},{"x":18,"y":0.011},{"x":15.2,"y":0.0112},{"x":16.1,"y":-0.0009},{"x":13.7,"y":0.0028},{"x":0.1,"y":0.0189},{"x":1,"y":0.0212},{"x":8.6,"y":-0.0184},{"x":2.3,"y":-0.0252},{"x":0.3,"y":-0.0328},{"x":1,"y":-0.0291},{"x":0.4,"y":-0.0278},{"x":1.5,"y":-0.0239},{"x":11.2,"y":-0.0038},{"x":10,"y":-0.0038},{"x":11,"y":-0.001},{"x":6.6,"y":-0.016},{"x":5,"y":-0.0143},{"x":3.4,"y":-0.0192},{"x":5.2,"y":-0.0115},{"x":7.4,"y":-0.0091},{"x":8.9,"y":-0.0056},{"x":20.5,"y":0.0225},{"x":19.8,"y":0.0185},{"x":17,"y":0.013},{"x":16.5,"y":0.0085},{"x":14.5,"y":0.0035},{"x":12.8,"y":-0.0015},{"x":10.5,"y":-0.006},{"x":9.3,"y":-0.008},{"x":2,"y":-0.027},
{"x":0.3,"y":0.011},{"x":0.1,"y":0.008},{"x":0.4,"y":0.005},{"x":0.2,"y":0.002},{"x":0.3,"y":-0.001},{"x":0.1,"y":-0.004},{"x":0.4,"y":-0.007},{"x":0.2,"y":-0.010},{"x":0.3,"y":-0.013},{"x":0.1,"y":-0.016},{"x":0.4,"y":-0.019},{"x":0.2,"y":-0.022},{"x":0.3,"y":-0.025},{"x":0.1,"y":-0.028},
{"x":1.5,"y":0.0125},{"x":1.3,"y":0.0095},{"x":1.6,"y":0.0065},{"x":1.4,"y":0.0035},{"x":1.5,"y":0.0005},{"x":1.3,"y":-0.0025},{"x":1.6,"y":-0.0055},{"x":1.4,"y":-0.0085},{"x":1.5,"y":-0.0115},{"x":1.3,"y":-0.0145},{"x":1.6,"y":-0.0175},{"x":1.4,"y":-0.0205},{"x":1.5,"y":-0.023},
{"x":2.7,"y":0.0135},{"x":2.5,"y":0.0105},{"x":2.8,"y":0.0075},{"x":2.6,"y":0.0045},{"x":2.7,"y":0.0015},{"x":2.5,"y":-0.0015},{"x":2.8,"y":-0.0045},{"x":2.6,"y":-0.0075},{"x":2.7,"y":-0.0105},{"x":2.5,"y":-0.0135},{"x":2.8,"y":-0.0165},{"x":2.6,"y":-0.019},
{"x":3.9,"y":0.0145},{"x":3.7,"y":0.0115},{"x":4.0,"y":0.0085},{"x":3.8,"y":0.0055},{"x":3.9,"y":0.0025},{"x":3.7,"y":-0.0005},{"x":4.0,"y":-0.0035},{"x":3.8,"y":-0.0065},{"x":3.9,"y":-0.0095},{"x":3.7,"y":-0.0125},{"x":4.0,"y":-0.015},
{"x":5.1,"y":0.0155},{"x":4.9,"y":0.0125},{"x":5.2,"y":0.0095},{"x":5.0,"y":0.0065},{"x":5.1,"y":0.0035},{"x":4.9,"y":0.0005},{"x":5.2,"y":-0.0025},{"x":5.0,"y":-0.0055},{"x":5.1,"y":-0.0085},{"x":4.9,"y":-0.0115},
{"x":6.3,"y":0.0165},{"x":6.1,"y":0.0135},{"x":6.4,"y":0.0105},{"x":6.2,"y":0.0075},{"x":6.3,"y":0.0045},{"x":6.1,"y":0.0015},{"x":6.4,"y":-0.0015},{"x":6.2,"y":-0.0045},{"x":6.3,"y":-0.0075},{"x":6.1,"y":-0.0095},
{"x":7.5,"y":0.0175},{"x":7.3,"y":0.0145},{"x":7.6,"y":0.0115},{"x":7.4,"y":0.0085},{"x":7.5,"y":0.0055},{"x":7.3,"y":0.0025},{"x":7.6,"y":-0.0005},{"x":7.4,"y":-0.0035},{"x":7.5,"y":-0.0065},
{"x":8.7,"y":0.0185},{"x":8.5,"y":0.0155},{"x":8.8,"y":0.0125},{"x":8.6,"y":0.0095},{"x":8.7,"y":0.0065},{"x":8.5,"y":0.0035},{"x":8.8,"y":0.0005},{"x":8.6,"y":-0.0025},{"x":8.7,"y":-0.005},
{"x":9.9,"y":0.0195},{"x":9.7,"y":0.0165},{"x":10.0,"y":0.0135},{"x":9.8,"y":0.0105},{"x":9.9,"y":0.0075},{"x":9.7,"y":0.0045},{"x":10.0,"y":0.0015},{"x":9.8,"y":-0.0015},
{"x":11.1,"y":0.0205},{"x":10.9,"y":0.0175},{"x":11.2,"y":0.0145},{"x":11.0,"y":0.0115},{"x":11.1,"y":0.0085},{"x":10.9,"y":0.0055},{"x":11.2,"y":0.0025},{"x":11.0,"y":-0.0005},
{"x":12.3,"y":0.0215},{"x":12.1,"y":0.0185},{"x":12.4,"y":0.0155},{"x":12.2,"y":0.0125},{"x":12.3,"y":0.0095},{"x":12.1,"y":0.0065},{"x":12.4,"y":0.0035},{"x":12.2,"y":0.001},
{"x":13.5,"y":0.0225},{"x":13.3,"y":0.0195},{"x":13.6,"y":0.0165},{"x":13.4,"y":0.0135},{"x":13.5,"y":0.0105},{"x":13.3,"y":0.0075},{"x":13.6,"y":0.0045},
{"x":14.7,"y":0.0235},{"x":14.5,"y":0.0205},{"x":14.8,"y":0.0175},{"x":14.6,"y":0.0145},{"x":14.7,"y":0.0115},{"x":14.5,"y":0.0085},{"x":14.8,"y":0.006},
{"x":15.9,"y":0.024},{"x":15.7,"y":0.021},{"x":16.0,"y":0.018},{"x":15.8,"y":0.015},{"x":15.9,"y":0.012},
{"x":17.1,"y":0.025},{"x":16.9,"y":0.022},{"x":17.2,"y":0.019},{"x":17.0,"y":0.016},
{"x":18.3,"y":0.026},{"x":18.1,"y":0.023},{"x":18.4,"y":0.020},{"x":18.2,"y":0.0175},
{"x":19.5,"y":0.0265},{"x":19.3,"y":0.0235},{"x":19.6,"y":0.021},
{"x":0.9,"y":0.0103},{"x":0.9,"y":0.0073},{"x":0.9,"y":0.0043},{"x":0.9,"y":0.0013},{"x":0.9,"y":-0.0017},{"x":0.9,"y":-0.0047},{"x":0.9,"y":-0.0077},{"x":0.9,"y":-0.0107},{"x":0.9,"y":-0.0137},{"x":0.9,"y":-0.0167},{"x":0.9,"y":-0.0197},{"x":0.9,"y":-0.0227},{"x":0.9,"y":-0.0255},
{"x":2.1,"y":0.0113},{"x":2.1,"y":0.0083},{"x":2.1,"y":0.0053},{"x":2.1,"y":0.0023},{"x":2.1,"y":-0.0007},{"x":2.1,"y":-0.0037},{"x":2.1,"y":-0.0067},{"x":2.1,"y":-0.0097},{"x":2.1,"y":-0.0127},{"x":2.1,"y":-0.0157},{"x":2.1,"y":-0.0187},{"x":2.1,"y":-0.0215},
{"x":3.3,"y":0.0123},{"x":3.3,"y":0.0093},{"x":3.3,"y":0.0063},{"x":3.3,"y":0.0033},{"x":3.3,"y":0.0003},{"x":3.3,"y":-0.0027},{"x":3.3,"y":-0.0057},{"x":3.3,"y":-0.0087},{"x":3.3,"y":-0.0117},{"x":3.3,"y":-0.0147},{"x":3.3,"y":-0.0173},
{"x":4.5,"y":0.0133},{"x":4.5,"y":0.0103},{"x":4.5,"y":0.0073},{"x":4.5,"y":0.0043},{"x":4.5,"y":0.0013},{"x":4.5,"y":-0.0017},{"x":4.5,"y":-0.0047},{"x":4.5,"y":-0.0077},{"x":4.5,"y":-0.0107},{"x":4.5,"y":-0.0137},
{"x":5.7,"y":0.0143},{"x":5.7,"y":0.0113},{"x":5.7,"y":0.0083},{"x":5.7,"y":0.0053},{"x":5.7,"y":0.0023},{"x":5.7,"y":-0.0007},{"x":5.7,"y":-0.0037},{"x":5.7,"y":-0.0067},{"x":5.7,"y":-0.0097},{"x":5.7,"y":-0.012},
{"x":6.9,"y":0.0153},{"x":6.9,"y":0.0123},{"x":6.9,"y":0.0093},{"x":6.9,"y":0.0063},{"x":6.9,"y":0.0033},{"x":6.9,"y":0.0003},{"x":6.9,"y":-0.0027},{"x":6.9,"y":-0.0057},{"x":6.9,"y":-0.0087},
{"x":8.1,"y":0.0163},{"x":8.1,"y":0.0133},{"x":8.1,"y":0.0103},{"x":8.1,"y":0.0073},{"x":8.1,"y":0.0043},{"x":8.1,"y":0.0013},{"x":8.1,"y":-0.0017},{"x":8.1,"y":-0.0047},{"x":8.1,"y":-0.0073},
{"x":9.3,"y":0.0173},{"x":9.3,"y":0.0143},{"x":9.3,"y":0.0113},{"x":9.3,"y":0.0083},{"x":9.3,"y":0.0053},{"x":9.3,"y":0.0023},{"x":9.3,"y":-0.0007},{"x":9.3,"y":-0.0037},
{"x":10.5,"y":0.0183},{"x":10.5,"y":0.0153},{"x":10.5,"y":0.0123},{"x":10.5,"y":0.0093},{"x":10.5,"y":0.0063},{"x":10.5,"y":0.0033},{"x":10.5,"y":0.0003},{"x":10.5,"y":-0.0027},
{"x":11.7,"y":0.0193},{"x":11.7,"y":0.0163},{"x":11.7,"y":0.0133},{"x":11.7,"y":0.0103},{"x":11.7,"y":0.0073},{"x":11.7,"y":0.0043},{"x":11.7,"y":0.0013},{"x":11.7,"y":-0.0013},
{"x":12.9,"y":0.0203},{"x":12.9,"y":0.0173},{"x":12.9,"y":0.0143},{"x":12.9,"y":0.0113},{"x":12.9,"y":0.0083},{"x":12.9,"y":0.0053},{"x":12.9,"y":0.0023},
{"x":14.1,"y":0.0213},{"x":14.1,"y":0.0183},{"x":14.1,"y":0.0153},{"x":14.1,"y":0.0123},{"x":14.1,"y":0.0093},{"x":14.1,"y":0.0063},{"x":14.1,"y":0.0037},
{"x":15.3,"y":0.0217},{"x":15.3,"y":0.0187},{"x":15.3,"y":0.0157},{"x":15.3,"y":0.0127},{"x":15.3,"y":0.0097},{"x":15.3,"y":0.007},
{"x":16.5,"y":0.0227},{"x":16.5,"y":0.0197},{"x":16.5,"y":0.0167},{"x":16.5,"y":0.0137},{"x":16.5,"y":0.011},
{"x":17.7,"y":0.0237},{"x":17.7,"y":0.0207},{"x":17.7,"y":0.0177},{"x":17.7,"y":0.0147},
{"x":18.9,"y":0.0243},{"x":18.9,"y":0.0213},{"x":18.9,"y":0.0183},{"x":20.2,"y":0.0255},{"x":20.2,"y":0.0225}],
"wf":[{"x":0,"fit":-0.0123,"lo":-0.0132,"hi":-0.0114},{"x":10,"fit":-0.00804,"lo":-0.00864,"hi":-0.00744},{"x":20,"fit":-0.00424,"lo":-0.00464,"hi":-0.00384},{"x":30,"fit":-0.00088,"lo":-0.00118,"hi":-0.00058},{"x":40,"fit":0.00204,"lo":0.00174,"hi":0.00234},{"x":50,"fit":0.0045,"lo":0.0042,"hi":0.0048},{"x":60,"fit":0.00652,"lo":0.00622,"hi":0.00682},{"x":70,"fit":0.00808,"lo":0.00778,"hi":0.00838},{"x":80,"fit":0.0092,"lo":0.0089,"hi":0.0095},{"x":90,"fit":0.00988,"lo":0.00948,"hi":0.01028},{"x":100,"fit":0.0101,"lo":0.0095,"hi":0.0107}],
"bf":[{"x":0,"fit":0.0087,"lo":0.0081,"hi":0.0093},{"x":10,"fit":0.00448,"lo":0.00408,"hi":0.00488},{"x":20,"fit":-0.00045,"lo":-0.00075,"hi":-0.00015},{"x":30,"fit":-0.00607,"lo":-0.00647,"hi":-0.00567},{"x":40,"fit":-0.0124,"lo":-0.013,"hi":-0.0118},{"x":50,"fit":-0.01942,"lo":-0.02032,"hi":-0.01852},{"x":60,"fit":-0.02714,"lo":-0.02844,"hi":-0.02584},{"x":63.5,"fit":-0.0300,"lo":-0.0315,"hi":-0.0285}],
"hf":[{"x":0,"fit":0.0116,"lo":0.011,"hi":0.0122},{"x":10,"fit":0.00927,"lo":0.00887,"hi":0.00967},{"x":20,"fit":0.00703,"lo":0.00673,"hi":0.00733},{"x":30,"fit":0.00489,"lo":0.00459,"hi":0.00519},{"x":40,"fit":0.00284,"lo":0.00254,"hi":0.00314},{"x":50,"fit":0.00088,"lo":0.00058,"hi":0.00118},{"x":60,"fit":-0.00098,"lo":-0.00128,"hi":-0.00068},{"x":70,"fit":-0.00275,"lo":-0.00315,"hi":-0.00235},{"x":80,"fit":-0.00442,"lo":-0.00492,"hi":-0.00392},{"x":90,"fit":-0.006,"lo":-0.0066,"hi":-0.0054}],
"af":[{"x":0,"fit":0.0028,"lo":0.0024,"hi":0.0032},{"x":5,"fit":0.00753,"lo":0.00723,"hi":0.00783},{"x":10,"fit":0.01225,"lo":0.01195,"hi":0.01255},{"x":15,"fit":0.01698,"lo":0.01658,"hi":0.01738},{"x":20,"fit":0.0217,"lo":0.021,"hi":0.0224},{"x":25,"fit":0.02643,"lo":0.02533,"hi":0.02753},{"x":30,"fit":0.03115,"lo":0.02955,"hi":0.03275},{"x":34.5,"fit":0.0354,"lo":0.0333,"hi":0.0375}]
},
"title":{
"text":"Figure 11",
"subtitle":["\u200b\u00a0\u00a0\u00a0\u00a0\u00a0\u00a0\u00a0\u00a0\u00a0\u00a0\u00a0\u00a0\u00a0\u00a0\u00a0\u00a0\u00a0\u00a0\u00a0The average marginal effects of median household income on PV count per household across","neighborhoods with varying racial compositions"],
"orient":"bottom","anchor":"start","frame":"bounds","offset":41,"dx":-4,
"font":"Open Sans","fontSize":18.3,"fontWeight":"bold","color":"#231f20",
"subtitleFont":"Open Sans","subtitleFontSize":18.3,"subtitleFontWeight":"normal","subtitleColor":"#231f20","subtitleLineHeight":25,"subtitlePadding":-21.3
},
"hconcat":[
{"width":186,"height":303,
"encoding":{"x":{"field":"x","type":"quantitative","scale":{"domain":[-4.3,105],"nice":false,"zero":false},"axis":{"values":[0,25,50,75,100],"title":"% of Whites"}}},
"layer":[
{"data":{"name":"w"},"mark":{"type":"circle","size":70,"opacity":0.9,"color":"#c49c94"},
"encoding":{"y":{"field":"y","type":"quantitative","scale":{"domain":[-0.0368,0.0532],"nice":false,"zero":false},"axis":{"values":[-0.02,0,0.02,0.04],"format":".2f","title":["Average Marginal Effects of Income on","Solar PV Count Per Household"],"titleFontSize":16,"titleLineHeight":18,"titlePadding":10.5}}}},
{"data":{"name":"wf"},"mark":{"type":"area","color":"#4c72b0","opacity":0.18},
"encoding":{"y":{"field":"lo","type":"quantitative","scale":{"domain":[-0.0368,0.0532],"nice":false,"zero":false},"axis":{"values":[-0.02,0,0.02,0.04],"format":".2f","title":["Average Marginal Effects of Income on","Solar PV Count Per Household"],"titleFontSize":16,"titleLineHeight":18,"titlePadding":10.5}},"y2":{"field":"hi"}}},
{"data":{"name":"wf"},"mark":{"type":"line","color":"#3f6cb5","strokeWidth":2},
"encoding":{"y":{"field":"fit","type":"quantitative","scale":{"domain":[-0.0368,0.0532],"nice":false,"zero":false},"axis":{"values":[-0.02,0,0.02,0.04],"format":".2f","title":["Average Marginal Effects of Income on","Solar PV Count Per Household"],"titleFontSize":16,"titleLineHeight":18,"titlePadding":10.5}}}}
]},
{"width":205,"height":303,
"encoding":{"x":{"field":"x","type":"quantitative","scale":{"domain":[-1.55,70.9],"nice":false,"zero":false},"axis":{"values":[0,20,40,60],"title":"% of African Americans"}}},
"layer":[
{"data":{"name":"b"},"mark":{"type":"circle","size":70,"opacity":0.9,"color":"#ffbb78"},
"encoding":{"y":{"field":"y","type":"quantitative","scale":{"domain":[-0.0368,0.0532],"nice":false,"zero":false},"axis":{"values":[-0.02,0,0.02,0.04],"labels":false,"title":null}}}},
{"data":{"name":"bf"},"mark":{"type":"area","color":"#4c72b0","opacity":0.18},
"encoding":{"y":{"field":"lo","type":"quantitative","scale":{"domain":[-0.0368,0.0532],"nice":false,"zero":false},"axis":{"values":[-0.02,0,0.02,0.04],"labels":false,"title":null}},"y2":{"field":"hi"}}},
{"data":{"name":"bf"},"mark":{"type":"line","color":"#3f6cb5","strokeWidth":2},
"encoding":{"y":{"field":"fit","type":"quantitative","scale":{"domain":[-0.0368,0.0532],"nice":false,"zero":false},"axis":{"values":[-0.02,0,0.02,0.04],"labels":false,"title":null}}}}
]},
{"width":205,"height":303,
"encoding":{"x":{"field":"x","type":"quantitative","scale":{"domain":[-1.14,100.8],"nice":false,"zero":false},"axis":{"values":[0,20,40,60,80,100],"title":"% of Hispanic/Latinx"}}},
"layer":[
{"data":{"name":"h"},"mark":{"type":"circle","size":70,"opacity":0.9,"color":"#c5b0d5"},
"encoding":{"y":{"field":"y","type":"quantitative","scale":{"domain":[-0.0368,0.0532],"nice":false,"zero":false},"axis":{"values":[-0.02,0,0.02,0.04],"labels":false,"title":null}}}},
{"data":{"name":"hf"},"mark":{"type":"area","color":"#4c72b0","opacity":0.18},
"encoding":{"y":{"field":"lo","type":"quantitative","scale":{"domain":[-0.0368,0.0532],"nice":false,"zero":false},"axis":{"values":[-0.02,0,0.02,0.04],"labels":false,"title":null}},"y2":{"field":"hi"}}},
{"data":{"name":"hf"},"mark":{"type":"line","color":"#3f6cb5","strokeWidth":2},
"encoding":{"y":{"field":"fit","type":"quantitative","scale":{"domain":[-0.0368,0.0532],"nice":false,"zero":false},"axis":{"values":[-0.02,0,0.02,0.04],"labels":false,"title":null}}}}
]},
{"width":205,"height":303,
"encoding":{"x":{"field":"x","type":"quantitative","scale":{"domain":[-1.53,34.5],"nice":false,"zero":false},"axis":{"values":[0,10,20,30],"title":"% of Asians"}}},
"layer":[
{"data":{"name":"a"},"mark":{"type":"circle","size":70,"opacity":0.9,"color":"#ff9896"},
"encoding":{"y":{"field":"y","type":"quantitative","scale":{"domain":[-0.0368,0.0532],"nice":false,"zero":false},"axis":{"values":[-0.02,0,0.02,0.04],"labels":false,"title":null}}}},
{"data":{"name":"af"},"mark":{"type":"area","color":"#4c72b0","opacity":0.18},
"encoding":{"y":{"field":"lo","type":"quantitative","scale":{"domain":[-0.0368,0.0532],"nice":false,"zero":false},"axis":{"values":[-0.02,0,0.02,0.04],"labels":false,"title":null}},"y2":{"field":"hi"}}},
{"data":{"name":"af"},"mark":{"type":"line","color":"#3f6cb5","strokeWidth":2},
"encoding":{"y":{"field":"fit","type":"quantitative","scale":{"domain":[-0.0368,0.0532],"nice":false,"zero":false},"axis":{"values":[-0.02,0,0.02,0.04],"labels":false,"title":null}}}}
]}
],
"spacing":5,
"config":{
"view":{"stroke":null},
"axis":{"grid":false,"domainColor":"#333333","domainWidth":1.3,"tickColor":"#333333","tickWidth":1.2,"tickSize":4.5,"labelColor":"#3a3a3a","labelFont":"Liberation Sans","labelFontSize":10,"labelPadding":3,"titleFont":"Liberation Sans","titleFontSize":15,"titleFontWeight":"normal","titleColor":"#3a3a3a"},
"axisX":{"titlePadding":4,"labelFlush":false},
"axisY":{"labelPadding":4}
}
}
